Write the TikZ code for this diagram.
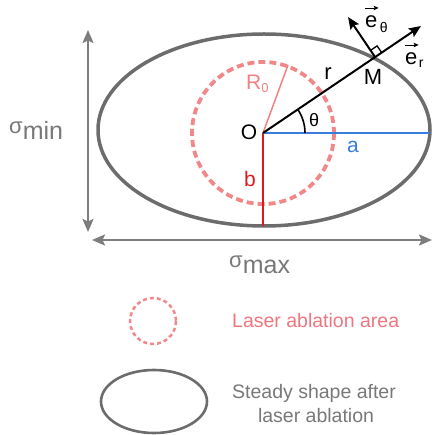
\documentclass[tikz,border=0pt]{standalone}
\usepackage{fontspec}
\setmainfont{Liberation Sans}
\usetikzlibrary{arrows.meta}
\definecolor{shapegray}{RGB}{108,108,108}
\definecolor{arrowgray}{RGB}{125,125,125}
\definecolor{labelgray}{RGB}{120,120,120}
\definecolor{laserpink}{RGB}{242,135,138}
\definecolor{textpink}{RGB}{238,118,128}
\definecolor{rpink}{RGB}{240,130,130}
\definecolor{ablue}{RGB}{55,125,220}
\definecolor{bred}{RGB}{222,25,30}
\begin{document}
\begin{tikzpicture}[x=1pt,y=-1pt,
  lbl/.style={inner sep=0pt, font=\fontsize{21}{21}\selectfont},
  sublbl/.style={inner sep=0pt, font=\fontsize{14}{14}\selectfont},
  legtxt/.style={inner sep=0pt, font=\fontsize{19.5}{24}\selectfont},
  dimarrow/.style={arrowgray, line width=2pt, {Stealth[length=13pt,width=11pt,inset=2.5pt]}-{Stealth[length=13pt,width=11pt,inset=2.5pt]}},
  vecarrow/.style={black, line width=2pt, -{Stealth[length=12pt,width=10pt,inset=2pt]}},
  overarrow/.style={black, line width=0.9pt, -{Stealth[length=5pt,width=4.5pt,inset=1pt]}},
  steady/.style={shapegray, line width=3.5pt},
  ablation/.style={laserpink, line width=3.8pt, dash pattern=on 7pt off 4pt}]
\useasboundingbox (0,0) rectangle (433,435);

% coordinates
\coordinate (O) at (263,133);
\coordinate (aend) at (430,133);
\coordinate (bend) at (263,226);
\coordinate (Rend) at (288,65);
\coordinate (M) at (375,57);
\coordinate (ertip) at (421,26);
\coordinate (ethtip) at (348,17);
\coordinate (sq1) at (381.6,52.5);
\coordinate (sq2) at (377.1,45.9);
\coordinate (sq3) at (370.5,50.4);
\coordinate (sminT) at (88,30);
\coordinate (sminB) at (88,232);
\coordinate (smaxL) at (92,240);
\coordinate (smaxR) at (432,240);

% main shapes
\draw[steady] (264,130) ellipse [x radius=166, y radius=96];
\draw[ablation] (O) circle [radius=71];
\draw[rpink, line width=1.5pt] (O) -- (Rend);
\draw[bred, line width=2pt] (O) -- (bend);
\draw[ablue, line width=2pt] (O) -- (aend);
\draw[vecarrow] (O) -- (ertip);
\draw[vecarrow] (M) -- (ethtip);
\draw[black, line width=1.3pt] (sq1) -- (sq2) -- (sq3);
\draw[black, line width=1.6pt] (305,133) arc[start angle=0, end angle=-34, radius=42];

% dimension arrows
\draw[dimarrow] (sminT) -- (sminB);
\draw[dimarrow] (smaxL) -- (smaxR);

% labels
\node[inner sep=0pt, anchor=base west, text=labelgray] (smin) at (9,140)
  {\raisebox{6pt}{\fontsize{22}{22}\selectfont σ}\fontsize{25}{25}\selectfont min};
\node[inner sep=0pt, anchor=base west, text=labelgray] (smax) at (229,273)
  {\raisebox{6pt}{\fontsize{22}{22}\selectfont σ}\fontsize{25}{25}\selectfont max};
\node[lbl, anchor=base] (Olbl) at (249,140) {O};
\node[lbl, anchor=base, font=\fontsize{18}{18}\selectfont] (thlbl) at (314,127) {θ};
\node[lbl, anchor=base west, text=rpink] (Rlbl) at (246,90)
  {R\raisebox{-3pt}{\fontsize{13}{13}\selectfont 0}};
\node[lbl, anchor=base, font=\fontsize{22}{22}\selectfont] (rlbl) at (328,80) {r};
\node[lbl, anchor=base, font=\fontsize{22}{22}\selectfont] (Mlbl) at (373,85) {M};
\node[lbl, anchor=base, text=ablue] (albl) at (353,153) {a};
\node[lbl, anchor=base, text=bred] (blbl) at (250,187) {b};

% unit vector labels
\node[lbl, anchor=base west, font=\fontsize{22}{22}\selectfont] (ethE) at (365,28) {e};
\node[sublbl, anchor=base west] (ethS) at ([xshift=2pt,yshift=-5pt]ethE.base east) {θ};
\draw[overarrow] ([yshift=8pt]ethE.north west) -- ([yshift=8pt,xshift=1pt]ethE.north east);
\node[lbl, anchor=base west, font=\fontsize{22}{22}\selectfont] (erE) at (405,65) {e};
\node[sublbl, anchor=base west] (erS) at ([xshift=1pt,yshift=-3pt]erE.base east) {r};
\draw[overarrow] ([yshift=8pt]erE.north west) -- ([yshift=8pt,xshift=1pt]erE.north east);

% legend
\draw[laserpink, line width=2.5pt, dash pattern=on 4pt off 3pt] (153,321) circle [radius=23];
\node[legtxt, anchor=base west, text=textpink] (leg1) at (232,327) {Laser ablation area};
\draw[shapegray, line width=2.6pt] (154,401.5) ellipse [x radius=53, y radius=31.5];
\node[legtxt, anchor=base, text=labelgray] (leg2a) at (314,398) {Steady shape after};
\node[legtxt, anchor=base, text=labelgray] (leg2b) at (316,422) {laser ablation};
\end{tikzpicture}
\end{document}
